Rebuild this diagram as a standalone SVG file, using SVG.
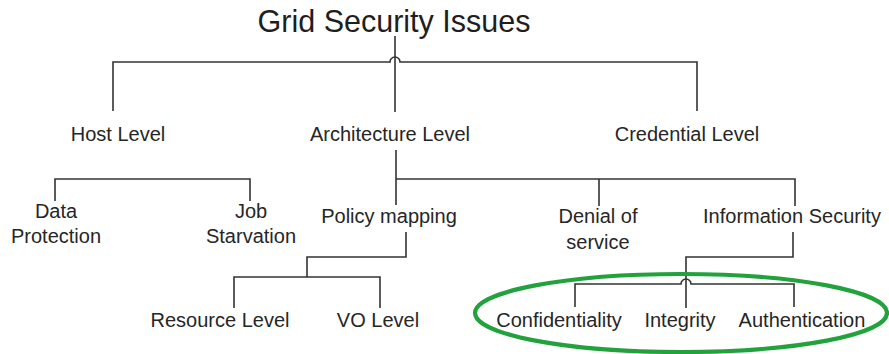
<svg xmlns="http://www.w3.org/2000/svg" width="889" height="354" viewBox="0 0 889 354">
  <style>
    .lbl { font-family: "Liberation Sans", Arial, sans-serif; font-size: 20px; fill: #262626; text-anchor: middle; }
    .title { font-family: "Liberation Sans", Arial, sans-serif; font-size: 30.5px; fill: #1e1e1e; text-anchor: middle; }
    .wire { fill: none; stroke: #333333; stroke-width: 1.6; }
  </style>
  <rect width="889" height="354" fill="#ffffff"/>

  <!-- connectors -->
  <g id="connectors">
    <!-- root to level 1, with a hop where the trunk crosses -->
    <path class="wire" d="M395 36 V112"/>
    <path class="wire" d="M113 111 V62 H390 A5 5 0 0 1 400 62 H697 V111"/>
    <!-- host level children -->
    <path class="wire" d="M55 201 V179 H250 V201"/>
    <!-- architecture level children -->
    <path class="wire" d="M396 150 V205 M396 179 H795 V206 M599 179 V206"/>
    <!-- policy mapping children -->
    <path class="wire" d="M406 232 V257 H307 V277 M234 308 V277 H380 V308"/>
    <!-- information security children -->
    <path class="wire" d="M793 232 V257 H686 V308"/>
    <path class="wire" d="M575 307 V284 H681 A5 5 0 0 1 691 284 H794 V307"/>
  </g>

  <!-- highlight -->
  <ellipse cx="681" cy="313" rx="206" ry="39" fill="none" stroke="#22a23d" stroke-width="4.2"/>

  <g id="root"><text class="title" x="394" y="32">Grid Security Issues</text></g>

  <g id="host-level"><text class="lbl" x="118" y="141">Host Level</text></g>
  <g id="architecture-level"><text class="lbl" x="390" y="141">Architecture Level</text></g>
  <g id="credential-level"><text class="lbl" x="687" y="141">Credential Level</text></g>

  <g id="data-protection"><text class="lbl" x="56" y="218">Data</text><text class="lbl" x="56" y="243">Protection</text></g>
  <g id="job-starvation"><text class="lbl" x="251" y="218">Job</text><text class="lbl" x="251" y="243">Starvation</text></g>
  <g id="policy-mapping"><text class="lbl" x="389" y="223">Policy mapping</text></g>
  <g id="denial-of-service"><text class="lbl" x="598" y="223">Denial of</text><text class="lbl" x="598" y="249">service</text></g>
  <g id="information-security"><text class="lbl" x="792" y="223">Information Security</text></g>

  <g id="resource-level"><text class="lbl" x="220" y="327">Resource Level</text></g>
  <g id="vo-level"><text class="lbl" x="378" y="327">VO Level</text></g>

  <g id="confidentiality"><text class="lbl" x="559" y="327">Confidentiality</text></g>
  <g id="integrity"><text class="lbl" x="680" y="327">Integrity</text></g>
  <g id="authentication"><text class="lbl" x="802" y="327">Authentication</text></g>
</svg>
